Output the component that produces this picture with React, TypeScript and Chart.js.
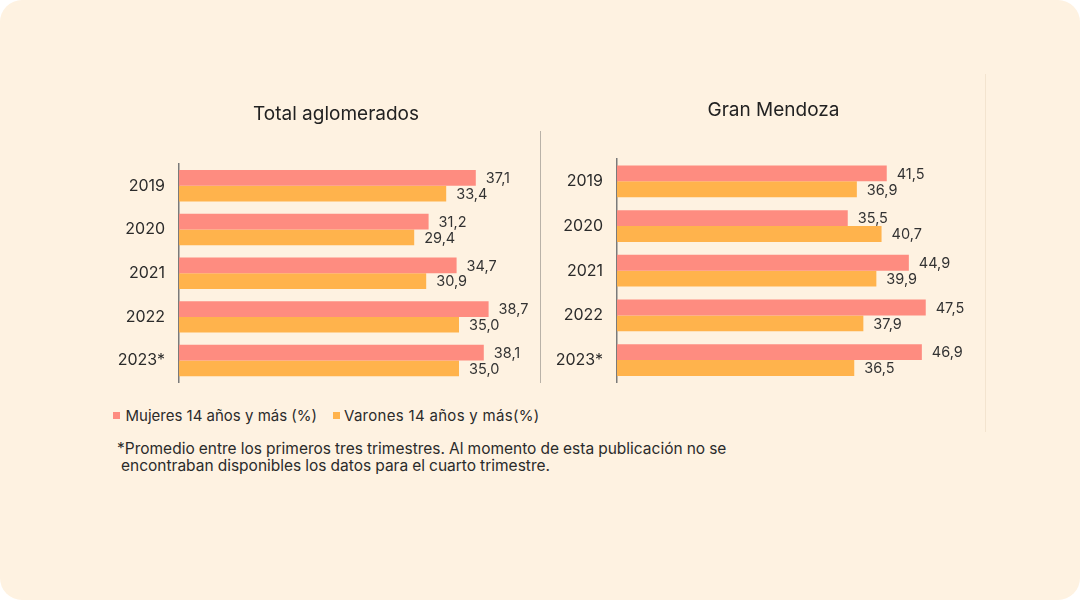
import React, { useEffect, useRef } from "react";
import { Chart, registerables } from "chart.js";

Chart.register(...registerables);

const categories = ["2019", "2020", "2021", "2022", "2023*"];
const totalMujeres = [37.1, 31.2, 34.7, 38.7, 38.1];
const totalVarones = [33.4, 29.4, 30.9, 35.0, 35.0];
const mendozaMujeres = [41.5, 35.5, 44.9, 47.5, 46.9];
const mendozaVarones = [36.9, 40.7, 39.9, 37.9, 36.5];
const seriesNames = ["Mujeres 14 años y más (%)", "Varones 14 años y más(%)"];
const titles = ["Total aglomerados", "Gran Mendoza"];
const footnote1 = "*Promedio entre los primeros tres trimestres. Al momento de esta publicación no se";
const footnote2 = "encontraban disponibles los datos para el cuarto trimestre.";

const PINK = "#FE8C80";
const ORANGE = "#FFB34C";
const BG = "#FEF2E1";
const TEXT = "#2b2b2b";

const valueLabels = {
  id: "valueLabels",
  afterDatasetsDraw(chart: any) {
    const ctx = chart.ctx;
    ctx.save();
    ctx.font = "14.5px Inter";
    ctx.fillStyle = "#333";
    ctx.textAlign = "left";
    ctx.textBaseline = "middle";
    chart.data.datasets.forEach((ds: any, i: number) => {
      const meta = chart.getDatasetMeta(i);
      meta.data.forEach((el: any, j: number) => {
        const v = ds.data[j] as number;
        ctx.fillText(v.toFixed(1).replace(".", ","), el.x + 10, el.y + 1);
      });
    });
    ctx.restore();
  },
};

function makeConfig(
  title: string,
  m: number[],
  v: number[],
  xMax: number,
  axisWidth: number,
  padTop: number,
  padBottom: number,
  catPct: number
): any {
  return {
    type: "bar",
    data: {
      labels: categories,
      datasets: [
        { label: seriesNames[0], data: m, backgroundColor: PINK, categoryPercentage: catPct, barPercentage: 1 },
        { label: seriesNames[1], data: v, backgroundColor: ORANGE, categoryPercentage: catPct, barPercentage: 1 },
      ],
    },
    options: {
      indexAxis: "y",
      animation: false,
      responsive: false,
      maintainAspectRatio: false,
      layout: { autoPadding: false, padding: { left: 0, right: 0, top: 0, bottom: 7 } },
      plugins: {
        legend: { display: false },
        tooltip: { enabled: false },
        title: {
          display: true,
          text: title,
          color: "#222",
          font: { family: "Inter", size: 19, weight: "normal", lineHeight: 1.2 },
          padding: { top: padTop, bottom: padBottom },
        },
      },
      scales: {
        x: { display: false, min: 0, max: xMax },
        y: {
          afterFit: (s: any) => {
            s.width = axisWidth;
          },
          grid: { display: false, drawTicks: false },
          border: { display: true, color: "#7a7a7a", width: 1.5 },
          ticks: { color: TEXT, font: { family: "Inter", size: 16 }, padding: 14 },
        },
      },
    },
    plugins: [valueLabels],
  };
}

function ChartBox(props: { cfg: any; left: number; top: number; width: number; height: number }) {
  const ref = useRef<HTMLCanvasElement>(null);
  useEffect(() => {
    const c = new Chart(ref.current as HTMLCanvasElement, props.cfg);
    return () => c.destroy();
  }, []);
  return (
    <canvas
      ref={ref}
      width={props.width}
      height={props.height}
      style={{ position: "absolute", left: props.left, top: props.top, width: props.width, height: props.height }}
    />
  );
}

export default function App() {
  const leftCfg = makeConfig(titles[0], totalMujeres, totalVarones, 49.125, 79, 13.1, 38.1, 0.72);
  const rightCfg = makeConfig(titles[1], mendozaMujeres, mendozaVarones, 60, 77, 9.3, 36.9, 0.71);
  const abs = (left: number, top: number): any => ({ position: "absolute", left, top });
  const textStyle: any = { fontFamily: "Inter", fontSize: 15, color: TEXT, whiteSpace: "nowrap", lineHeight: "20px" };
  return (
    <div style={{ position: "fixed", left: 0, top: 0, width: 1080, height: 600, background: "#ffffff" }}>
      <div style={{ position: "absolute", left: 0, top: 0, width: 1080, height: 600, background: BG, borderRadius: 22 }}>
        <ChartBox cfg={leftCfg} left={100} top={90} width={472} height={316} />
        <ChartBox cfg={rightCfg} left={540} top={90} width={467} height={316} />
        <div style={{ position: "absolute", left: 540, top: 131, width: 1, height: 252, background: "#b9b2a8" }} />
        <div style={{ position: "absolute", left: 985, top: 74, width: 1, height: 358, background: "#f3e4cf" }} />
        <div style={{ ...abs(113, 412), width: 7, height: 7, background: PINK }} />
        <div style={{ ...abs(125.5, 405.5), ...textStyle }}>{seriesNames[0]}</div>
        <div style={{ ...abs(333, 412), width: 7, height: 7, background: ORANGE }} />
        <div style={{ ...abs(344, 405.5), ...textStyle, letterSpacing: 0.3 }}>{seriesNames[1]}</div>
        <div
          style={{
            ...abs(117, 440),
            fontFamily: "Inter",
            fontSize: 15.5,
            color: TEXT,
            whiteSpace: "nowrap",
            lineHeight: "17px",
            wordSpacing: -0.3,
          }}
        >
          <div>{footnote1}</div>
          <div style={{ paddingLeft: 4 }}>{footnote2}</div>
        </div>
      </div>
    </div>
  );
}
